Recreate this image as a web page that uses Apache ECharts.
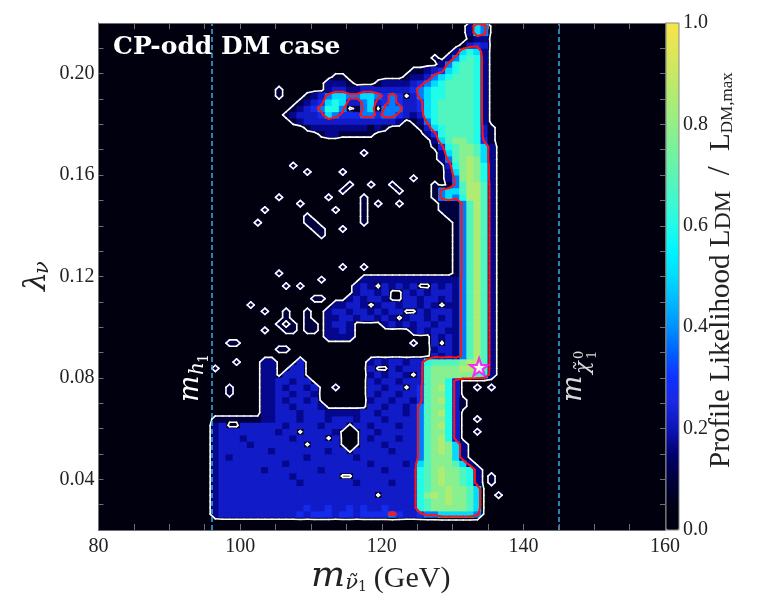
<!DOCTYPE html>
<html><head><meta charset="utf-8">
<script src="https://cdn.jsdelivr.net/npm/echarts@6/dist/echarts.min.js"></script>
<style>html,body{margin:0;padding:0;background:#fff}#c{width:762px;height:610px}</style>
</head><body><div id="c"></div>
<script>
// ---------------- data ----------------
const xTickValues = [80, 100, 120, 140, 160];
const yTickValues = [0.04, 0.08, 0.12, 0.16, 0.20];
const cbarTickValues = [0.0, 0.2, 0.4, 0.6, 0.8, 1.0];
const massStart = 94, massStep = 1;          // GeV, cell columns
const lambdaStart = 0.02, lambdaStep = 0.0025; // cell rows
const levelChars = '0123456789a';
const levelValues = [0.02, 0.10, 0.17, 0.22, 0.27, 0.38, 0.50, 0.60, 0.68, 0.78, 0.85];
const contourLevels = [0.06, 0.32];           // white, red
const thresholdLines = [96, 145];             // m_h1, m_chi1
const bestFitPoint = [[133.75, 0.0843]];
const Z = '0000000000', Z6 = '000000';
// rows from top (lambda 0.22) to bottom (0.02); columns m = 94..139 GeV
const likelihoodRows = [
Z+Z+Z+'0000000026'+'500000',
Z+Z+Z+'0000000026'+'500000',
Z+Z+Z+'0000000012'+'200000',
Z+Z+Z+'0000000134'+'300000',
Z+Z+Z+'0000002676'+'200000',
Z+Z+Z+'0001025787'+'200000',
Z+Z+Z+'0000257887'+'200000',
Z+Z+Z+'1123467887'+'200000',
Z+'0000000001'+'1000000001'+'2235678887'+'200000',
Z+'0000000022'+'2100012222'+'3456788887'+'200000',
Z+'0100000023'+'3223333333'+'4567788887'+'200000',
Z+'0100012356'+'6556654540'+'3567788887'+'200000',
Z+'0000123467'+'6335634543'+'3467888887'+'200000',
Z+'0001234577'+'5015605553'+'3467888887'+'200000',
Z+'0012333465'+'4445545543'+'2367888887'+'200000',
Z+'0001233333'+'3333333320'+'1257888887'+'200000',
Z+'0000012222'+'2222121000'+'0136788887'+'310000',
Z+'0000000122'+'1111100000'+'0024788887'+'310000',
Z+Z+Z+'0002689987'+'410000',
Z+Z+Z+'0001478998'+'620000',
Z+Z+'0001000000'+'0000268998'+'620000',
Z+Z+Z+'00002589a9'+'620000',
Z+'0001000000'+Z+'00000379a9'+'720000',
Z+'0000010000'+'1000000000'+'00000269a9'+'720000',
Z+Z+Z+'10000259a9'+'720000',
Z+Z+'0100100100'+'00010158aa'+'820000',
Z+Z+'1000000010'+'00015668aa'+'820000',
Z+'0100000010'+'0001000000'+'00015657aa'+'820000',
Z+'0000100000'+'0001010010'+'000011158a'+'820000',
'0000000001'+'0000000001'+'0001000000'+'000011158a'+'820000',
Z+'0000010000'+'0001000000'+'000001158a'+'820000',
'0000000010'+'0000011000'+'0001000000'+'000000158a'+'820000',
Z+'0000001100'+'1000000000'+'000000158a'+'820000',
Z+'0000000100'+Z+'000000158a'+'820000',
Z+Z+Z+'000000158a'+'820000',
Z+Z+Z+'000000158a'+'820000',
Z+Z+Z+'000000158a'+'820000',
Z+Z+Z+'000000158a'+'820000',
Z+Z+'1001000000'+'000000158a'+'820000',
Z+'0100000000'+Z+'000000158a'+'820000',
Z+'0000000100'+'0002222222'+'222222258a'+'820000',
Z+'0010100000'+'0023203232'+'300323258a'+'820000',
Z+Z+'0023323003'+'232333258a'+'820000',
Z+'0000001100'+'0232332003'+'323323258a'+'820000',
'0000000100'+'0000000002'+'2332023323'+'323202258a'+'820000',
'0000000001'+'0010010023'+'3233232330'+'032333258a'+'820000',
Z+'0010010022'+'3323323202'+'332323258a'+'820000',
Z+'0101011023'+'3200002323'+'233233258a'+'820000',
'0000000001'+'0011011022'+'3200000000'+'232332258a'+'820000',
Z+'0000000022'+'2200000000'+'000323258a'+'820000',
'0000110000'+Z+Z+'100303258a'+'820000',
Z+'0110000000'+Z+'000233258a'+'820000',
Z+Z+Z+'000323258a'+'820000',
'0000010002'+'2000300000'+'0000232332'+'33788889aa'+'820000',
'0010000002'+'2003300000'+'0000300323'+'3389999aaa'+'820000',
'0000000002'+'2033300000'+'0000232332'+'0389999998'+'720000',
'0000000002'+'2332330000'+'0000323323'+'3389973000'+'000000',
'0000100002'+'2323323001'+'0000332330'+'3489a73001'+'010000',
'0000100002'+'2332332000'+'0000323323'+'3489973000'+'000000',
'0000000002'+'2323323000'+'0000233233'+'2489a73100'+'000000',
'0000000002'+'2332333200'+'0000332332'+'3589973100'+'000000',
'0000000002'+'2333233322'+'2223323332'+'3589a73000'+'000000',
'0011111112'+'2333233323'+'3323332333'+'3589973001'+'000000',
'0023003333'+'3323333233'+'3033233323'+'3589a73000'+'000000',
'0023333333'+'3233033332'+'0003323333'+'3589973001'+'000000',
'0023332333'+'3332333303'+'0003233323'+'3589a73000'+'000000',
'0023333233'+'3333303333'+'0003332333'+'3589a96200'+'000000',
'0023333333'+'2333333323'+'3033333233'+'3589a96200'+'000000',
'0023233333'+'3333323333'+'3323333333'+'3589996200'+'000000',
'0023333333'+'3323333333'+'3333233332'+'3689998620'+'000000',
'0023333332'+'3333333233'+'3333332333'+'3789a99872'+'000000',
'0023333333'+'3332333333'+'0033333333'+'3789a99872'+'010000',
'0023333333'+'3333233333'+'3323333233'+'3789a99872'+'010000',
'0023333333'+'3333333333'+'3333333333'+'37899a9986'+'000000',
'0023333333'+'3333333333'+'3333303333'+'379a9a9986'+'001000',
'0023333333'+'3333333333'+'3333333333'+'37899a9986'+'000000',
'0023333333'+'3333343343'+'3434334333'+'3789999986'+'000000',
'0023333333'+'3333434443'+'4434444543'+'3455666665'+'000000',
Z+Z+Z+Z+Z6,
Z+Z+Z+Z+Z6
];
const colorStops = ['#00000e','#000018','#00003c','#000070','#0c14b8','#1828e0','#1030ff','#0060ff','#0090ff','#00b8ff','#00dcff','#00f4ff','#20fce8','#40f8d0','#5cf4b4','#78f29c','#94ee88','#aeec74','#c8e864','#e2e656','#f8e448'];

// ---------------- build grid / cells ----------------
const R = likelihoodRows.length, C = likelihoodRows[0].length;
const V = [];
for (let i = 0; i < R; i++) {
  const r = R - 1 - i;
  V[r] = likelihoodRows[i].split('').map(ch => levelValues[levelChars.indexOf(ch)]);
}
const cells = [];
for (let r = 0; r < R; r++) for (let c = 0; c < C; c++) {
  if (V[r][c] > levelValues[0]) cells.push([massStart + c * massStep, lambdaStart + r * lambdaStep, V[r][c]]);
}
// marching squares on cell centres
function contour(level) {
  const segs = [];
  const val = (r, c) => (r < 0 || r >= R || c < 0 || c >= C) ? levelValues[0] : V[r][c];
  const px = c => massStart + (c + 0.5) * massStep;
  const py = r => lambdaStart + (r + 0.5) * lambdaStep;
  for (let r = -1; r < R; r++) for (let c = -1; c < C; c++) {
    const P = [[c, r], [c + 1, r], [c + 1, r + 1], [c, r + 1]];
    const v = P.map(p => val(p[1], p[0]));
    const ins = v.map(x => x >= level);
    const cr = [];
    for (let e = 0; e < 4; e++) {
      const a = e, b = (e + 1) % 4;
      if (ins[a] !== ins[b]) {
        const t = (level - v[a]) / (v[b] - v[a]);
        cr[e] = [px(P[a][0]) + t * (px(P[b][0]) - px(P[a][0])), py(P[a][1]) + t * (py(P[b][1]) - py(P[a][1]))];
      } else cr[e] = null;
    }
    const idx = [0, 1, 2, 3].filter(e => cr[e]);
    if (idx.length === 2) segs.push([...cr[idx[0]], ...cr[idx[1]]]);
    else if (idx.length === 4) {
      const centre = (v[0] + v[1] + v[2] + v[3]) / 4;
      const target = !(centre >= level);
      for (let k = 0; k < 4; k++) if (ins[k] === target) segs.push([...cr[(k + 3) % 4], ...cr[k]]);
    }
  }
  return segs;
}
const whiteSegs = contour(contourLevels[0]);
const redSegs = contour(contourLevels[1]);

// ---------------- chart ----------------
const chart = echarts.init(document.getElementById('c'), null, {renderer: 'canvas', width: 762, height: 610});
const axisCol = '#707070';
const tick = {show: true, inside: true, length: 6, lineStyle: {color: axisCol, width: 1}};
const aLine = {show: true, onZero: false, lineStyle: {color: axisCol, width: 1}};
const lblFont = {fontFamily: 'Liberation Serif', fontSize: 20, color: '#222'};
const near = (arr, v) => arr.some(t => Math.abs(t - v) < 1e-9);

function segRender(color, w) {
  return function (params, api) {
    const p1 = api.coord([api.value(0), api.value(1)]);
    const p2 = api.coord([api.value(2), api.value(3)]);
    return {type: 'line', shape: {x1: p1[0], y1: p1[1], x2: p2[0], y2: p2[1]},
      style: {stroke: color, lineWidth: w, lineCap: 'round'}, silent: true};
  };
}
function txt(s, u, v, size, o) {
  o = o || {};
  const fam = o.family || 'DejaVu Serif';
  const font = (o.italic ? 'italic ' : '') + (o.bold ? 'bold ' : '') + size + 'px "' + fam + '"';
  return {type: 'text', x: u, y: v - 0.34 * size, silent: true,
    style: {text: s, font: font, fill: o.fill || '#222', align: 'left', verticalAlign: 'middle'}};
}
const ROT = Math.PI / 2;
const LS = 'Liberation Serif', DS = 'DejaVu Serif';

const option = {
  animation: false,
  backgroundColor: '#ffffff',
  grid: [
    {left: 98.5, top: 23, width: 566.5, height: 507, show: true, backgroundColor: '#00000e', borderWidth: 0},
    {left: 666, top: 23, width: 13, height: 507, show: true, backgroundColor: 'transparent', borderColor: '#888', borderWidth: 1, z: 6}
  ],
  xAxis: [
    {gridIndex: 0, type: 'value', min: 80, max: 160, interval: 5, position: 'bottom', z: 10,
      axisLine: aLine, axisTick: tick, splitLine: {show: false},
      axisLabel: Object.assign({margin: 7, formatter: v => near(xTickValues, v) ? String(v) : ''}, lblFont)},
    {gridIndex: 0, type: 'value', min: 80, max: 160, interval: 5, position: 'top', z: 10,
      axisLine: aLine, axisTick: tick, splitLine: {show: false}, axisLabel: {show: false}},
    {gridIndex: 1, type: 'value', min: 0, max: 1, show: false}
  ],
  yAxis: [
    {gridIndex: 0, type: 'value', min: 0.02, max: 0.22, interval: 0.01, position: 'left', z: 10,
      axisLine: aLine, axisTick: Object.assign({}, tick, {length: 5}), splitLine: {show: false},
      axisLabel: Object.assign({margin: 4, formatter: v => near(yTickValues, v) ? v.toFixed(2) : ''}, lblFont)},
    {gridIndex: 0, type: 'value', min: 0.02, max: 0.22, interval: 0.01, position: 'right', z: 10,
      axisLine: aLine, axisTick: Object.assign({}, tick, {length: 5}), splitLine: {show: false}, axisLabel: {show: false}},
    {gridIndex: 1, type: 'value', min: 0, max: 1, interval: 0.2, position: 'right',
      axisLine: {show: false}, axisTick: {show: false}, splitLine: {show: false},
      axisLabel: Object.assign({margin: 4, formatter: v => near(cbarTickValues, v) ? v.toFixed(1) : ''}, lblFont)}
  ],
  visualMap: {
    type: 'continuous', min: 0, max: 1, dimension: 2, seriesIndex: 0,
    inRange: {color: colorStops}, show: true, calculable: false, orient: 'vertical',
    left: 666, top: 23, itemWidth: 13, itemHeight: 507, padding: 0, text: null, hoverLink: false
  },
  series: [
    {type: 'custom', name: 'likelihood', coordinateSystem: 'cartesian2d', xAxisIndex: 0, yAxisIndex: 0,
      dimensions: ['m', 'lambda', 'L'], encode: {x: 0, y: 1}, data: cells, clip: true, silent: true, z: 1,
      renderItem: function (params, api) {
        const x0 = api.value(0), y0 = api.value(1);
        const p0 = api.coord([x0, y0 + lambdaStep]);
        const p1 = api.coord([x0 + massStep, y0]);
        return {type: 'rect', shape: {x: p0[0] - 0.4, y: p0[1] - 0.4, width: p1[0] - p0[0] + 0.8, height: p1[1] - p0[1] + 0.8},
          style: {fill: api.visual('color')}, silent: true};
      }},
    {type: 'custom', name: 'white contour', coordinateSystem: 'cartesian2d', xAxisIndex: 0, yAxisIndex: 0,
      encode: {x: [0, 2], y: [1, 3]}, data: whiteSegs, clip: true, silent: true, z: 3,
      renderItem: segRender('#ffffff', 1.6)},
    {type: 'custom', name: 'red contour', coordinateSystem: 'cartesian2d', xAxisIndex: 0, yAxisIndex: 0,
      encode: {x: [0, 2], y: [1, 3]}, data: redSegs, clip: true, silent: true, z: 4,
      renderItem: segRender('#ff1414', 2.0)},
    {type: 'scatter', name: 'best fit', xAxisIndex: 0, yAxisIndex: 0, data: bestFitPoint, z: 6,
      symbol: 'path://M0,-10 L2.35,-3.24 L9.51,-3.09 L3.8,1.24 L5.88,8.09 L0,4 L-5.88,8.09 L-3.8,1.24 L-9.51,-3.09 L-2.35,-3.24 Z',
      symbolSize: 18, symbolKeepAspect: true,
      itemStyle: {color: '#ffffff', borderColor: '#ff00ff', borderWidth: 2.2},
      markLine: {silent: true, symbol: ['none', 'none'], label: {show: false},
        lineStyle: {color: '#33aee8', type: [5, 3], width: 1.5},
        data: thresholdLines.map(v => ({xAxis: v}))}}
  ],
  graphic: [
    txt('CP-odd DM case', 113, 56, 25, {bold: true, fill: '#ffffff'}),
    {type: 'text', x: 311, y: 574.5, silent: true, style: {
      text: '{m|m}{s|ν\u0303}{ss|1}{g|(GeV)}', align: 'left', verticalAlign: 'middle',
      rich: {
        m: {fontFamily: DS, fontStyle: 'italic', fontSize: 36, lineHeight: 40, verticalAlign: 'bottom', fill: '#222'},
        s: {fontFamily: DS, fontStyle: 'italic', fontSize: 21, lineHeight: 22, verticalAlign: 'bottom', fill: '#222'},
        ss: {fontFamily: DS, fontSize: 14, lineHeight: 10, verticalAlign: 'bottom', fill: '#222'},
        g: {fontFamily: LS, fontSize: 30, lineHeight: 40, verticalAlign: 'bottom', padding: [0, 0, 0, 7], fill: '#222'}
      }}},
    {type: 'group', x: 47, y: 291, rotation: ROT, children: [
      txt('λ', 0, 0, 30, {italic: true}),
      txt('ν', 17, 3, 21, {italic: true})
    ]},
    {type: 'group', x: 200, y: 402, rotation: ROT, children: [
      txt('m', 0, 0, 28, {italic: true, fill: '#ffffff'}),
      txt('h', 27, 5, 20, {italic: true, fill: '#ffffff'}),
      txt('1', 39, 9, 14, {fill: '#ffffff'})
    ]},
    {type: 'group', x: 583, y: 402, rotation: ROT, children: [
      txt('m', 0, 0, 28, {italic: true, fill: '#d9d9d9'}),
      txt('χ\u0303', 28, 8, 21, {italic: true, fill: '#d9d9d9'}),
      txt('0', 43, 1, 13, {fill: '#d9d9d9'}),
      txt('1', 43, 14, 13, {fill: '#d9d9d9'})
    ]},
    {type: 'group', x: 731, y: 468, rotation: ROT, children: [
      {type: 'text', x: 0, y: -9.9, silent: true, style: {
        text: '{a|Profile Likelihood }{a|L}{s|DM}{sl|/}{a|L}{t|DM,max}', align: 'left', verticalAlign: 'middle',
        rich: {
          a: {fontFamily: LS, fontSize: 29, lineHeight: 30, verticalAlign: 'bottom', fill: '#222'},
          s: {fontFamily: LS, fontSize: 24, lineHeight: 16, verticalAlign: 'bottom', fill: '#222'},
          sl: {fontFamily: LS, fontSize: 32, lineHeight: 30, verticalAlign: 'bottom', width: 40, align: 'center', fill: '#222'},
          t: {fontFamily: LS, fontSize: 17, lineHeight: 12, verticalAlign: 'bottom', fill: '#222'}
        }}}
    ]}
  ]
};
chart.setOption(option);
</script>
</body></html>
